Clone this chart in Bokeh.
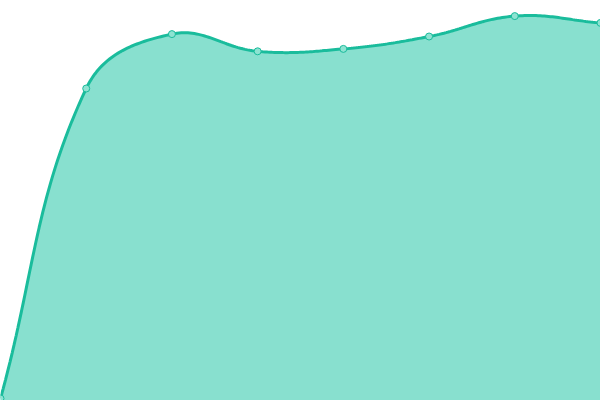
import numpy as np
from bokeh.plotting import figure
from bokeh.models import Range1d, GlobalInlineStyleSheet
from bokeh.embed import file_html
from bokeh.resources import INLINE

# data
x_values = [0, 1, 2, 3, 4, 5, 6, 7]
y_values = [0.5, 78.0, 91.6, 87.3, 87.9, 91.0, 96.1, 94.4]

W, H = 600, 400
XMIN, XMAX = 0, 7
YMIN, YMAX = 0, 100
LINE = "#1abc9c"
FILL = "#88e0cf"

sx = W / (XMAX - XMIN)
sy = H / (YMAX - YMIN)


def spline_path(xs, ys, tension=0.4, n=40):
    px = np.array(xs, float) * sx
    py = np.array(ys, float) * sy
    m = len(px)
    cp_prev = []
    cp_next = []
    for i in range(m):
        pi = max(i - 1, 0)
        ni = min(i + 1, m - 1)
        d01 = np.hypot(px[i] - px[pi], py[i] - py[pi])
        d12 = np.hypot(px[ni] - px[i], py[ni] - py[i])
        tot = d01 + d12
        s01 = d01 / tot if tot else 0
        s12 = d12 / tot if tot else 0
        fa, fb = tension * s01, tension * s12
        dx, dy = px[ni] - px[pi], py[ni] - py[pi]
        cp_prev.append((px[i] - fa * dx, py[i] - fa * dy))
        cp_next.append((px[i] + fb * dx, py[i] + fb * dy))
    outx, outy = [], []
    t = np.linspace(0, 1, n)
    for i in range(m - 1):
        p0 = np.array([px[i], py[i]])
        p1 = np.array(cp_next[i])
        p2 = np.array(cp_prev[i + 1])
        p3 = np.array([px[i + 1], py[i + 1]])
        pts = ((1 - t) ** 3)[:, None] * p0 + (3 * (1 - t) ** 2 * t)[:, None] * p1 \
            + (3 * (1 - t) * t ** 2)[:, None] * p2 + (t ** 3)[:, None] * p3
        if i > 0:
            pts = pts[1:]
        outx.extend(pts[:, 0] / sx)
        outy.extend(pts[:, 1] / sy)
    return outx, outy


cx, cy = spline_path(x_values, y_values)

p = figure(width=W, height=H, output_backend="svg", toolbar_location=None,
           x_range=Range1d(XMIN, XMAX), y_range=Range1d(YMIN, YMAX),
           min_border=0, min_border_left=0, min_border_right=0,
           min_border_top=0, min_border_bottom=0)
p.axis.visible = False
p.grid.visible = False
p.outline_line_color = None
p.background_fill_color = "white"
p.border_fill_color = "white"
p.stylesheets = [GlobalInlineStyleSheet(css="body{margin:0 !important;}")]

p.patch(cx + [x_values[-1], x_values[0]], cy + [YMIN, YMIN],
        fill_color=FILL, fill_alpha=1.0, line_color=None)
p.line(cx, cy, line_color=LINE, line_width=3)
p.scatter(x_values, y_values, size=7, fill_color="#8ee3d2", line_color=LINE,
          line_width=1)

open("out.html", "w").write(file_html(p, INLINE))
